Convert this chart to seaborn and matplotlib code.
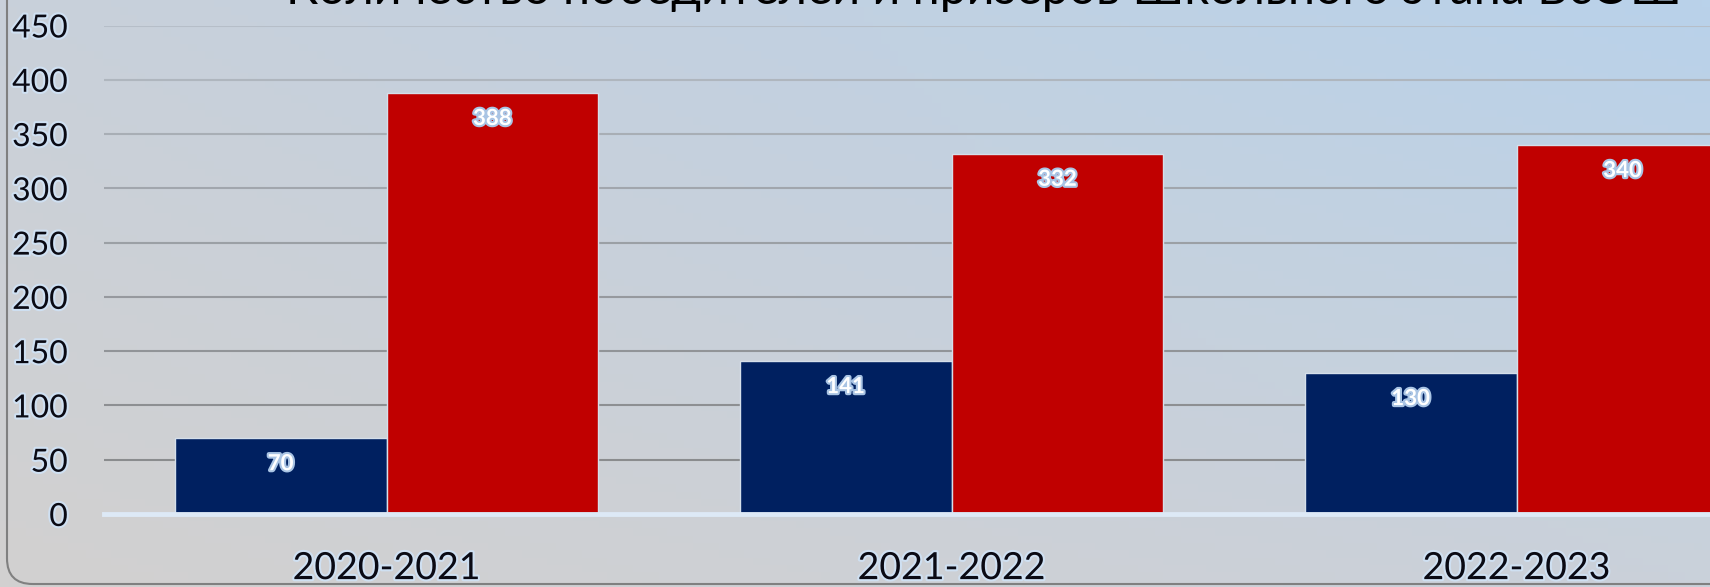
import numpy as np
import pandas as pd
import matplotlib
matplotlib.use('Agg')
import matplotlib.pyplot as plt
import matplotlib.patheffects as pe
from matplotlib.patches import FancyBboxPatch
import seaborn as sns

# data
years = ['2020-2021', '2021-2022', '2022-2023']
series = ['Победители', 'Призёры']
winners = [70, 141, 130]
prizers = [388, 332, 340]
title = 'Количество победителей и призеров Школьного этапа ВсОШ'

df = pd.DataFrame({
    'year': years * 2,
    'series': [series[0]] * 3 + [series[1]] * 3,
    'value': winners + prizers,
})

sns.set_theme(style='white')
plt.rcParams['font.family'] = ['Lato', 'DejaVu Sans']

W, H = 1710, 587
fig = plt.figure(figsize=(W / 100, H / 100), dpi=100)

# background gradient
bg = fig.add_axes([0, 0, 1, 1], zorder=-10)
tl = np.array([0xc9, 0xd0, 0xda]) / 255
tr = np.array([0xb9, 0xd2, 0xea]) / 255
bl = np.array([0xd2, 0xd0, 0xd0]) / 255
br = np.array([0xca, 0xd1, 0xda]) / 255
u = np.linspace(0, 1, 200)[None, :, None]
v = np.linspace(0, 1, 80)[:, None, None]
img = (1 - v) * ((1 - u) * tl + u * tr) + v * ((1 - u) * bl + u * br)
bg.imshow(img, aspect='auto', extent=[0, 1, 0, 1], origin='upper')
bg.set_axis_off()

# rounded frame
frame = FancyBboxPatch((7 / W, 1 - 584 / H), 1.2, 1.2,
                       boxstyle='round,pad=0,rounding_size=0.015',
                       transform=fig.transFigure, fill=False,
                       edgecolor='#808080', linewidth=1.5, zorder=-5,
                       mutation_aspect=W / H)
fig.patches.append(frame)

ax = fig.add_axes([104 / W, 1 - 514 / H, 1 - 104 / W, (514 - 25.5) / H])
ax.set_facecolor('none')

sns.barplot(data=df, x='year', y='value', hue='series',
            palette=['#002060', '#c00000'], width=0.75, dodge=True,
            edgecolor='#d5dfea', linewidth=1, saturation=1, ax=ax,
            legend=False, zorder=3)

ax.set_yticks(range(0, 451, 50))
ax.set_xticks([-0.5, 0.5, 1.5, 2.5], minor=True)
# set limits after ticks so the ticks do not widen the view
ax.set_ylim(0, 450)
ax.set_xlim(-0.5, -0.5 + (W - 104) / 565)
ax.set_xlabel('')
ax.set_ylabel('')
ax.yaxis.grid(True, linewidth=1.5, zorder=0)
ax.set_axisbelow(True)
# gridlines fade out towards the top
lo = np.array([0x88, 0x8a, 0x8c]) / 255
hi = np.array([0xb6, 0xbe, 0xc8]) / 255
glines = ax.get_ygridlines()
for i, gl in enumerate(glines):
    f = i / (len(glines) - 1)
    gl.set_color((1 - f ** 1.5) * lo + f ** 1.5 * hi)

for s in ['left', 'top', 'right']:
    ax.spines[s].set_visible(False)
ax.spines['bottom'].set_color('#dde9f6')
ax.spines['bottom'].set_linewidth(3.5)
ax.spines['bottom'].set_zorder(5)

glow = [pe.withStroke(linewidth=3, foreground='#cfe0f2')]
ax.tick_params(axis='y', length=0, pad=26, labelsize=23, labelcolor='#0a0a14')
ax.tick_params(axis='x', which='major', length=0, pad=26, labelsize=27,
               labelcolor='#0a0a14')
ax.tick_params(axis='x', which='minor', length=8, width=3, color='#e6f0fa',
               direction='out')
for lab in ax.get_yticklabels() + ax.get_xticklabels():
    lab.set_path_effects(glow)

# value labels inside bar tops
lab_glow = [pe.withStroke(linewidth=3, foreground='#a9c4e4')]
for cont in ax.containers:
    for bar in cont:
        x = bar.get_x() + bar.get_width() / 2
        h = bar.get_height()
        ax.annotate(f'{int(round(h))}', xy=(x, h), xytext=(0, -18.5),
                    textcoords='offset points', ha='center', va='center',
                    fontsize=16, fontweight='bold', color='white',
                    path_effects=lab_glow, zorder=6, annotation_clip=True)

# title, cut off at top of image as in the source
t = fig.text(984 / W, 1 - 4 / H, title, ha='center', va='baseline',
             fontsize=34, color='#000000')
fig.canvas.draw()
bb = t.get_window_extent()
t.set_fontsize(34 * 1400 / bb.width)

fig.savefig('out.png', dpi=100)
